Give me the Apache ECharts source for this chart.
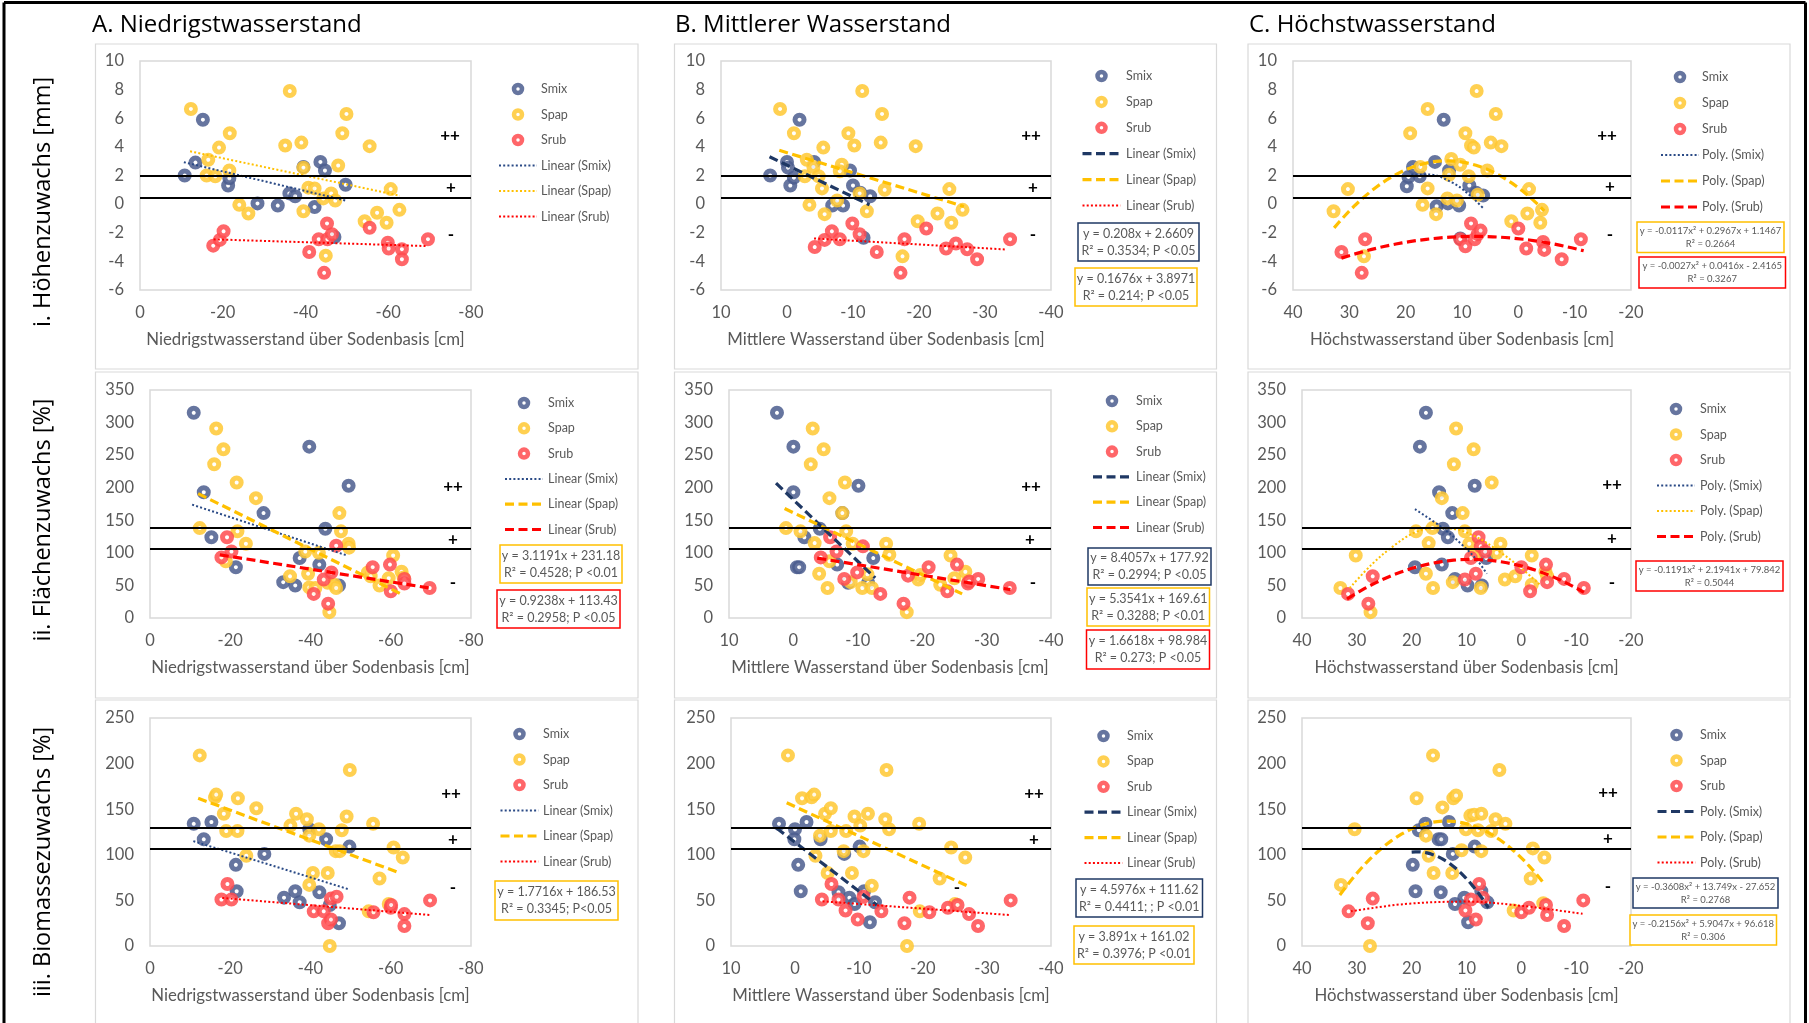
<!DOCTYPE html>
<html><head><meta charset="utf-8">
<script src="https://cdn.jsdelivr.net/npm/echarts@6.0.0/dist/echarts.min.js"></script>
<style>html,body{margin:0;padding:0;background:#fff}#c{width:1809px;height:1023px}</style>
</head><body><div id="c"></div><script>
// ---------------- TEXT ----------------
const colTitles = ['A. Niedrigstwasserstand', 'B. Mittlerer Wasserstand', 'C. Höchstwasserstand'];
const rowTitles = ['i. Höhenzuwachs [mm]', 'ii. Flächenzuwachs [%]', 'iii. Biomassezuwachs [%]'];
const xAxisTitles = ['Niedrigstwasserstand über Sodenbasis [cm]', 'Mittlere Wasserstand über Sodenbasis [cm]', 'Höchstwasserstand über Sodenbasis [cm]'];
const groups = ['Smix', 'Spap', 'Srub'];
const trendPrefix = ['Linear', 'Linear', 'Poly.'];
const classMarks = ['++', '+', '-'];

// ---------------- AXES (tick values) ----------------
const xTicksA = [-80, -60, -40, -20, 0];
const xTicksB = [-40, -30, -20, -10, 0, 10];
const xTicksC = [-20, -10, 0, 10, 20, 30, 40];
const yTicksI = [-6, -4, -2, 0, 2, 4, 6, 8, 10];
const yTicksII = [0, 50, 100, 150, 200, 250, 300, 350];
const yTicksIII = [0, 50, 100, 150, 200, 250];

// class thresholds (horizontal black lines) per row
const thrI = [2.0, 0.45];
const thrII = [139, 106];
const thrIII = [130, 107];

// ---------------- DATA: row i (Höhenzuwachs) ----------------
const iA_Smix = [[-10.8,2.0],[-13.4,2.9],[-15.2,5.9],[-21.3,1.3],[-21.6,1.8],[-28.4,0.05],[-33.3,-0.1],[-36.1,0.75],[-37.5,0.55],[-39.5,2.6],[-42.2,-0.2],[-43.6,2.95],[-44.7,2.35],[-47.0,-2.3],[-49.7,1.35]];
const iA_Spap = [[-12.3,6.65],[-16.5,3.1],[-16.1,2.0],[-18.2,1.95],[-19.1,3.95],[-21.7,4.95],[-21.6,2.35],[-24.0,-0.05],[-26.2,-0.65],[-35.1,4.1],[-36.2,7.9],[-39.0,4.3],[-39.5,2.55],[-39.5,-0.5],[-40.7,1.15],[-42.2,1.1],[-44.3,0.4],[-44.9,-3.6],[-46.2,0.75],[-47.2,0.25],[-47.9,2.7],[-48.9,4.95],[-49.9,6.3],[-54.3,-1.2],[-55.5,4.05],[-57.3,-0.6],[-59.6,-1.3],[-60.6,1.05],[-62.7,-0.4]];
const iA_Srub = [[-17.7,-2.9],[-19.3,-2.5],[-20.2,-1.9],[-40.9,-3.35],[-43.2,-2.45],[-44.5,-4.8],[-45.2,-1.35],[-45.3,-2.45],[-46.4,-2.1],[-55.5,-1.65],[-59.9,-2.7],[-60.1,-3.1],[-63.3,-3.15],[-63.3,-3.85],[-69.6,-2.45]];
const iB_Smix = [[2.55,2.0],[0,2.95],[-0.15,2.55],[-0.5,1.3],[-1.05,1.85],[-1.9,5.9],[-4.1,2.95],[-6.85,-0.1],[-8.5,-0.1],[-9.55,2.35],[-10.0,1.3],[-11.1,0.8],[-11.6,-2.35],[-12.6,0.55]];
const iB_Spap = [[1.05,6.65],[-1.05,4.95],[-3.0,3.1],[-2.7,1.95],[-3.4,-0.05],[-4.0,2.6],[-4.8,1.95],[-5.3,1.1],[-5.5,3.95],[-5.7,-0.7],[-7.6,0.25],[-8.3,2.75],[-8.0,2.3],[-9.3,4.95],[-10.2,4.1],[-11.0,0.75],[-11.4,7.9],[-12.1,-0.5],[-14.2,4.3],[-14.4,6.3],[-14.8,1.0],[-17.5,-3.65],[-19.5,4.05],[-19.8,-1.2],[-22.8,-0.65],[-24.6,1.05],[-24.9,-1.3],[-26.6,-0.4]];
const iB_Srub = [[-4.2,-3.0],[-5.7,-2.5],[-6.8,-1.9],[-8.0,-2.45],[-9.9,-1.35],[-11.0,-2.1],[-13.6,-3.35],[-17.2,-4.8],[-17.8,-2.45],[-21.1,-1.7],[-24.1,-3.1],[-25.6,-2.75],[-27.3,-3.15],[-28.8,-3.85],[-33.8,-2.45]];
const iC_Smix = [[19.8,1.25],[19.5,1.9],[18.7,2.6],[17.5,1.95],[14.8,2.95],[14.5,-0.15],[13.25,5.9],[12.5,0.05],[12.3,2.35],[10.5,-0.1],[10.3,-2.4],[8.7,1.3],[7.5,0.8],[6.25,0.6]];
const iC_Spap = [[32.8,-0.5],[30.25,1.05],[27.4,-3.65],[19.2,4.95],[17.4,2.6],[17.0,-0.05],[16.1,6.65],[16.1,1.1],[14.6,-0.7],[12.6,0.4],[11.9,3.15],[12.3,2.05],[10.9,0.25],[10.3,2.75],[9.4,4.95],[8.8,1.95],[8.4,4.1],[7.9,3.95],[7.4,7.9],[7.2,0.65],[5.5,2.35],[4.9,4.3],[4.0,6.3],[3.0,4.05],[1.25,-1.2],[-1.6,-0.65],[-1.9,1.05],[-3.9,-1.3],[-4.2,-0.4]];
const iC_Srub = [[31.4,-3.35],[27.2,-2.45],[27.8,-4.8],[10.3,-2.45],[9.4,-2.95],[8.4,-1.35],[7.75,-2.45],[7.2,-2.1],[6.7,-1.85],[0,-1.7],[-1.4,-3.1],[-4.4,-2.65],[-4.6,-3.2],[-7.7,-3.85],[-11.1,-2.45]];

// ---------------- DATA: row ii (Flächenzuwachs) ----------------
const iiA_Smix = [[-10.9,315],[-13.4,193],[-15.3,124],[-21.4,78],[-28.3,161],[-33.2,55],[-36.2,50],[-37.3,92],[-39.7,263],[-42.2,82],[-43.7,137],[-47.1,50],[-49.5,203]];
const iiA_Spap = [[-12.4,138],[-16.5,291],[-16.0,236],[-18.3,259],[-18.9,87],[-21.6,208],[-21.8,133],[-23.9,114],[-26.4,184],[-34.9,64],[-38.7,102],[-39.4,68],[-39.7,47],[-41.2,46],[-42.1,100],[-44.3,54],[-44.7,9],[-46.0,51],[-46.4,46],[-47.2,161],[-47.6,133],[-49.5,114],[-49.6,108],[-54.3,70],[-55.0,64],[-57.2,50],[-59.5,61],[-60.6,96],[-62.7,71],[-63.2,62]];
const iiA_Srub = [[-17.8,93],[-19.2,124],[-20.3,102],[-40.8,37],[-43.3,59],[-44.4,22],[-45.2,70],[-46.4,111],[-55.5,78],[-59.8,82],[-60.0,41],[-63.4,60],[-63.4,53],[-69.7,46]];
const iiB_Smix = [[2.55,315],[0,263],[0,193],[-0.55,78],[-0.9,78],[-1.7,124],[-4.1,137],[-6.8,82],[-7.6,161],[-8.5,54],[-10.1,203],[-11.6,54],[-12.4,92]];
const iiB_Spap = [[1.15,138],[-1.1,133],[-2.7,236],[-3.0,291],[-3.3,115],[-4.0,68],[-4.7,259],[-5.3,46],[-5.6,184],[-5.6,87],[-7.6,161],[-8.0,208],[-8.2,133],[-8.9,55],[-9.2,114],[-10.7,46],[-11.5,67],[-12.2,46],[-14.4,114],[-14.9,97],[-17.6,9],[-19.4,59],[-19.7,66],[-22.8,51],[-24.4,96],[-25.0,61],[-26.7,71],[-27.2,56]];
const iiB_Srub = [[-4.25,93],[-5.7,124],[-6.7,102],[-7.9,60],[-9.9,70],[-10.8,110],[-13.5,37],[-17.1,22],[-17.8,65],[-21.0,78],[-23.9,41],[-25.4,82],[-27.1,53],[-27.3,56],[-28.7,60],[-33.6,46]];
const iiC_Smix = [[17.4,315],[18.5,263],[19.4,78],[15.0,193],[12.6,161],[14.3,137],[13.4,124],[14.5,82],[12.1,60],[9.8,50],[8.5,203],[7.2,50],[6.4,92]];
const iiC_Spap = [[33.0,46],[30.2,96],[27.5,9],[19.2,133],[17.4,68],[16.9,115],[16.2,138],[16.1,46],[14.5,184],[12.3,236],[12.5,55],[11.9,291],[10.7,161],[10.3,133],[9.5,114],[8.7,259],[8.5,97],[7.4,46],[5.4,208],[4.5,100],[3.8,114],[3.0,59],[1.1,64],[-1.9,96],[-1.9,51],[-4.4,71],[-4.7,64]];
const iiC_Srub = [[31.6,37],[27.9,22],[27.1,64],[10.3,59],[9.2,92],[8.3,68],[7.8,124],[7.4,110],[6.6,102],[0,78],[-1.6,41],[-4.5,82],[-4.7,55],[-7.8,60],[-11.4,46]];

// ---------------- DATA: row iii (Biomassezuwachs) ----------------
const iiiA_Smix = [[-10.9,134],[-13.4,117],[-15.3,136],[-21.4,89],[-21.6,60],[-28.5,101],[-33.4,53],[-36.2,60],[-37.3,48],[-39.7,128],[-42.2,59],[-43.9,117],[-44.8,45],[-47.1,25],[-49.7,109]];
const iiiA_Spap = [[-12.4,209],[-16.2,163],[-16.5,166],[-18.4,145],[-19.0,126],[-21.8,126],[-21.9,162],[-24.0,99],[-26.5,151],[-35.0,132],[-36.4,145],[-39.1,139],[-39.7,121],[-40.6,80],[-39.7,67],[-42.1,128],[-44.3,80],[-44.8,0],[-46.3,104],[-47.3,104],[-47.8,127],[-49.0,142],[-49.8,193],[-54.5,38],[-55.6,134],[-57.2,74],[-59.5,46],[-60.7,108],[-63.0,97]];
const iiiA_Srub = [[-17.8,51],[-19.3,68],[-20.3,51],[-40.8,38],[-43.3,38],[-44.4,25],[-45.1,29],[-45.1,52],[-46.5,54],[-55.7,37],[-60.0,42],[-60.1,45],[-63.4,35],[-63.4,22],[-69.8,50]];
const iiiB_Smix = [[2.5,134],[0,128],[0.1,117],[-0.5,89],[-0.9,60],[-1.8,136],[-4.0,117],[-7.7,101],[-6.8,59],[-8.5,53],[-9.3,46],[-10.1,109],[-10.8,60],[-11.7,26],[-12.5,48]];
const iiiB_Spap = [[1.1,209],[-1.1,162],[-2.6,163],[-3.0,166],[-3.2,99],[-3.9,121],[-4.7,145],[-5.1,80],[-5.6,126],[-5.6,151],[-7.6,104],[-8.0,126],[-8.9,80],[-9.3,142],[-10.2,132],[-10.7,104],[-11.4,145],[-12.0,66],[-14.1,139],[-14.3,193],[-14.7,128],[-17.5,0],[-19.4,134],[-19.5,38],[-22.6,74],[-24.4,108],[-25.0,46],[-26.6,97]];
const iiiB_Srub = [[-4.2,51],[-5.7,68],[-6.8,51],[-7.9,39],[-9.8,29],[-10.7,54],[-13.5,38],[-17.1,25],[-17.9,53],[-21.0,37],[-23.9,42],[-25.4,45],[-27.2,35],[-28.6,22],[-33.7,50]];
const iiiC_Smix = [[19.8,89],[19.3,60],[18.7,127],[17.5,134],[15.1,117],[14.6,117],[14.7,59],[13.2,136],[12.5,101],[12.1,46],[10.4,53],[9.7,26],[8.5,109],[7.3,60],[6.2,48]];
const iiiC_Spap = [[32.9,67],[30.4,128],[27.6,0],[19.1,162],[17.4,121],[16.9,99],[16.1,209],[16.0,80],[14.4,152],[12.6,80],[12.4,162],[11.9,165],[10.9,105],[10.1,128],[9.3,143],[8.6,144],[7.9,127],[7.3,104],[7.3,145],[5.5,126],[4.7,139],[4.0,193],[2.9,134],[1.4,39],[-1.7,74],[-2.1,107],[-4.0,47],[-4.2,97]];
const iiiC_Srub = [[31.5,38],[28.0,25],[27.1,52],[10.2,39],[9.2,51],[8.3,29],[7.7,68],[7.0,53],[0,37],[-1.4,42],[-4.5,45],[-4.7,34],[-7.8,22],[-11.3,50]];

// ---------------- TRENDLINES ----------------
// linear trendlines: end points
const iA_trSmix = [[-10.6,2.93],[-50,0.23]];
const iA_trSpap = [[-12.1,3.69],[-62.8,0.59]];
const iA_trSrub = [[-17.8,-2.46],[-69.2,-2.93]];
const iiA_trSmix = [[-10.5,174],[-49.1,96]];
const iiA_trSpap = [[-12,191],[-62.5,37]];
const iiA_trSrub = [[-17.4,97],[-69.7,46]];
const iiiA_trSmix = [[-10.8,115],[-49.7,62]];
const iiiA_trSpap = [[-12,162],[-61.7,81]];
const iiiA_trSrub = [[-18,52.7],[-69.7,34]];
const iB_trSmix = [[2.65,3.31],[-12.5,-0.05]];
const iB_trSpap = [[1.17,3.76],[-26.8,-0.16]];
const iB_trSrub = [[-4.1,-2.4],[-33.3,-3.17]];
const iiB_trSmix = [[2.7,207],[-12.7,61.5]];
const iiB_trSpap = [[1.36,168],[-26.2,37]];
const iiB_trSrub = [[-3.7,92],[-33.7,43.6]];
const iiiB_trSmix = [[2.85,129],[-12.8,45]];
const iiiB_trSpap = [[1.3,157],[-26.9,66]];
const iiiB_trSrub = [[-4.3,49],[-33.5,34]];
// polynomial trendlines without printed equation: points
const iC_trSmix = [[19,2.07],[15.9,2.07],[11.6,1.48],[8.4,0.54],[6.25,-0.28]];
const iiC_trSmix = [[19.4,167],[14.3,138],[10.5,110],[7.9,87],[6.3,68]];
const iiC_trSpap = [[31.3,46],[27.3,82],[23.4,110],[19.5,131],[15.6,138],[11.8,136],[7.9,123],[4.0,102],[0.1,77],[-3.4,51]];
const iiiC_trSrub = [[31.1,38],[21.3,46],[9.9,48.7],[-0.1,44],[-11.5,35]];
// polynomial trendlines with printed equation: coefficients [a,b,c] and x range
const iC_polySpap = [-0.0117, 0.2967, 1.1467];   const iC_rangeSpap = [32.7, -4.6];
const iC_polySrub = [-0.0027, 0.0416, -2.4165];  const iC_rangeSrub = [31.4, -11.6];
const iiC_polySrub = [-0.1191, 2.1941, 79.842];  const iiC_rangeSrub = [31.8, -11.4];
const iiiC_polySmix = [-0.3608, 13.749, -27.652]; const iiiC_rangeSmix = [20, 6];
const iiiC_polySpap = [-0.2156, 5.9047, 96.618];  const iiiC_rangeSpap = [33.1, -4.3];

// ---------------- EQUATION LABELS ----------------
const iiA_eq = [['Spap','y = 3.1191x + 231.18','R² = 0.4528; P <0.01'],['Srub','y = 0.9238x + 113.43','R² = 0.2958; P <0.05']];
const iiiA_eq = [['Spap','y = 1.7716x + 186.53','R² = 0.3345; P<0.05']];
const iB_eq = [['Smix','y = 0.208x + 2.6609','R² = 0.3534; P <0.05'],['Spap','y = 0.1676x + 3.8971','R² = 0.214; P <0.05']];
const iiB_eq = [['Smix','y = 8.4057x + 177.92','R² = 0.2994; P <0.05'],['Spap','y = 5.3541x + 169.61','R² = 0.3288; P <0.01'],['Srub','y = 1.6618x + 98.984','R² = 0.273; P <0.05']];
const iiiB_eq = [['Smix','y = 4.5976x + 111.62','R² = 0.4411; ; P <0.01'],['Spap','y = 3.891x + 161.02','R² = 0.3976; P <0.01']];
const iC_eq = [['Spap','y = -0.0117x² + 0.2967x + 1.1467','R² = 0.2664'],['Srub','y = -0.0027x² + 0.0416x - 2.4165','R² = 0.3267']];
const iiC_eq = [['Srub','y = -0.1191x² + 2.1941x + 79.842','R² = 0.5044']];
const iiiC_eq = [['Smix','y = -0.3608x² + 13.749x - 27.652','R² = 0.2768'],['Spap','y = -0.2156x² + 5.9047x + 96.618','R² = 0.306']];

// ================= STYLE / LAYOUT =================
const FONT = 'Lato, "Open Sans", sans-serif';
const TFONT = '"Open Sans", Lato, sans-serif';
const TXT = '#595959';
const markerColor = {Smix:'#4b5d8e', Spap:'#ffc832', Srub:'#ff4b4f'};
const lineColor = {dot:{Smix:'#2a4a86', Spap:'#ffc000', Srub:'#ff0000'}, dash:{Smix:'#1f3864', Spap:'#ffc000', Srub:'#ff0000'}};
const boxColor = {Smix:'#1f3864', Spap:'#ffc000', Srub:'#ff0000'};

function polyLine(c, r) {
  const pts = [];
  for (let k = 0; k <= 40; k++) { const x = r[0] + (r[1]-r[0])*k/40; pts.push([x, c[0]*x*x + c[1]*x + c[2]]); }
  return pts;
}
function axisFromTicks(t) { return {min: t[0], max: t[t.length-1], interval: t[1]-t[0]}; }

const xTicks = [xTicksA, xTicksB, xTicksC];
const yTicks = [yTicksI, yTicksII, yTicksIII];
const thr = [thrI, thrII, thrIII];

// panel: row, col, grid [left,top,w,h], data, trends, styles, legend [cx,y0,step,tx], boxes, marks
const panels = [
 {row:0,col:0,grid:[140,61,331,229],data:[iA_Smix,iA_Spap,iA_Srub],tr:[{p:iA_trSmix},{p:iA_trSpap},{p:iA_trSrub}],st:['dot','dot','dot'],lg:[518,89,25.5,541],eq:[],eqBox:[],mk:[[450,136],[451,188],[451,235]]},
 {row:1,col:0,grid:[150,390,321,228],data:[iiA_Smix,iiA_Spap,iiA_Srub],tr:[{p:iiA_trSmix},{p:iiA_trSpap},{p:iiA_trSrub}],st:['dot','dash','dash'],lg:[524,403,25.3,548],eq:iiA_eq,eqBox:[[500,545,122,38],[497,590,123,38]],mk:[[453,487],[453,540],[453,583]]},
 {row:2,col:0,grid:[150,718,321,228],data:[iiiA_Smix,iiiA_Spap,iiiA_Srub],tr:[{p:iiiA_trSmix},{p:iiiA_trSpap},{p:iiiA_trSrub}],st:['dot','dash','dot'],lg:[519.5,734,25.5,543],eq:iiiA_eq,eqBox:[[495,881,123,39]],mk:[[451,794],[453,840],[453,888]]},
 {row:0,col:1,grid:[721,61,330,229],data:[iB_Smix,iB_Spap,iB_Srub],tr:[{p:iB_trSmix},{p:iB_trSpap},{p:iB_trSrub}],st:['dash','dash','dot'],lg:[1101.5,76,25.9,1126],eq:iB_eq,eqBox:[[1078,223,121,38],[1075,268,122,38]],mk:[[1031,136],[1033,188],[1033,235]]},
 {row:1,col:1,grid:[729,390,322,228],data:[iiB_Smix,iiB_Spap,iiB_Srub],tr:[{p:iiB_trSmix},{p:iiB_trSpap},{p:iiB_trSrub}],st:['dash','dash','dash'],lg:[1112,401,25.3,1136],eq:iiB_eq,eqBox:[[1088,548,123,37],[1087,588,122.5,38],[1086.5,630,123,39]],mk:[[1031,487],[1030,540],[1033,583]]},
 {row:2,col:1,grid:[731,718,320,228],data:[iiiB_Smix,iiiB_Spap,iiiB_Srub],tr:[{p:iiiB_trSmix},{p:iiiB_trSpap},{p:iiiB_trSrub}],st:['dash','dash','dot'],lg:[1103.5,736,25.4,1127],eq:iiiB_eq,eqBox:[[1076,879,126.5,38],[1074,926,120,38]],mk:[[1034,794],[1034,840],[957,888]]},
 {row:0,col:2,grid:[1293,61,338,229],data:[iC_Smix,iC_Spap,iC_Srub],tr:[{p:iC_trSmix,s:true},{c:iC_polySpap,r:iC_rangeSpap},{c:iC_polySrub,r:iC_rangeSrub}],st:['dot','dash','dash'],lg:[1680,77,26,1702],eq:iC_eq,eqBox:[[1637,222,147,30.5],[1639,257,146.5,31]],mk:[[1607,136],[1610,187],[1610,235]],small:true},
 {row:1,col:2,grid:[1302,390,329,228],data:[iiC_Smix,iiC_Spap,iiC_Srub],tr:[{p:iiC_trSmix,s:true},{p:iiC_trSpap,s:true},{c:iiC_polySrub,r:iiC_rangeSrub}],st:['dot','dot','dash'],lg:[1676,409,25.5,1700],eq:iiC_eq,eqBox:[[1636,561,147,30]],mk:[[1612,485],[1612,539],[1612,583]],small:true},
 {row:2,col:2,grid:[1302,718,329,228],data:[iiiC_Smix,iiiC_Spap,iiiC_Srub],tr:[{c:iiiC_polySmix,r:iiiC_rangeSmix},{c:iiiC_polySpap,r:iiiC_rangeSpap},{p:iiiC_trSrub,s:true}],st:['dash','dash','dot'],lg:[1676.5,735,25.5,1700],eq:iiiC_eq,eqBox:[[1633,878,145,30],[1630,915,146.5,30]],mk:[[1608,793],[1608,839],[1608,887]],small:true}
];

const lineCfg = {dot:{width:2, type:[2,2.2]}, dash:{width:3.2, type:[9,4.5]}};

const option = {animation:false, backgroundColor:'#ffffff', grid:[], xAxis:[], yAxis:[], series:[], graphic:[]};
const G = option.graphic;

// outer frame
G.push({type:'line', shape:{x1:4, y1:2.5, x2:1805.5, y2:2.5}, style:{stroke:'#000', lineWidth:3}, z:10});
G.push({type:'line', shape:{x1:4, y1:2.5, x2:4, y2:1023}, style:{stroke:'#000', lineWidth:3}, z:10});
G.push({type:'line', shape:{x1:1805.5, y1:2.5, x2:1805.5, y2:1023}, style:{stroke:'#000', lineWidth:3}, z:10});

// panel frames
const colX = [[95.5,542.5],[674.5,542],[1248,542]];
const rowY = [[44,325],[372,326],[700,330]];
for (let r = 0; r < 3; r++) for (let c = 0; c < 3; c++) {
  G.push({type:'rect', shape:{x:colX[c][0], y:rowY[r][0], width:colX[c][1], height:rowY[r][1]}, style:{fill:'none', stroke:'#d9d9d9', lineWidth:1.2}, z:-1, silent:true});
}
// column titles
const colTitleX = [92, 675, 1249];
colTitles.forEach((t, i) => G.push({type:'text', x:colTitleX[i], y:25, style:{text:t, fill:'#000', font:'24px ' + TFONT, align:'left', verticalAlign:'middle', textAlign:'left', textVerticalAlign:'middle'}}));
// row titles
const rowTitleY = [202, 520, 862];
rowTitles.forEach((t, i) => G.push({type:'text', x:43, y:rowTitleY[i], rotation:Math.PI/2, style:{text:t, fill:'#000', font:'23.5px ' + TFONT, align:'center', verticalAlign:'middle', textAlign:'center', textVerticalAlign:'middle'}}));

panels.forEach((p, idx) => {
  const g = p.grid;
  option.grid.push({left:g[0], top:g[1], width:g[2], height:g[3], show:true, borderColor:'#d9d9d9', borderWidth:1.5, backgroundColor:'rgba(0,0,0,0)'});
  const xa = axisFromTicks(xTicks[p.col]);
  const ya = axisFromTicks(yTicks[p.row]);
  option.xAxis.push({gridIndex:idx, type:'value', min:xa.min, max:xa.max, interval:xa.interval, inverse:true,
    axisLine:{show:false}, axisTick:{show:false}, splitLine:{show:false},
    axisLabel:{color:TXT, fontSize:16.5, fontFamily:FONT, margin:14},
    name:xAxisTitles[p.col], nameLocation:'middle', nameGap:41, nameTextStyle:{color:TXT, fontSize:16.8, fontFamily:FONT}});
  option.yAxis.push({gridIndex:idx, type:'value', min:ya.min, max:ya.max, interval:ya.interval,
    axisLine:{show:false}, axisTick:{show:false}, splitLine:{show:false},
    axisLabel:{color:TXT, fontSize:16.5, fontFamily:FONT, margin:16}});

  // threshold lines
  option.series.push({type:'line', name:'thr'+idx, xAxisIndex:idx, yAxisIndex:idx, data:[], silent:true, z:1,
    markLine:{silent:true, symbol:['none','none'], label:{show:false}, lineStyle:{color:'#000', width:2, type:'solid'},
      data: thr[p.row].map(v => ({yAxis:v}))}});

  // scatter
  groups.forEach((gname, k) => {
    option.series.push({type:'scatter', name:gname + ' ' + idx, xAxisIndex:idx, yAxisIndex:idx, data:p.data[k],
      symbol:'circle', symbolSize:9, z:2,
      itemStyle:{color:'#ffffff', borderColor:markerColor[gname], borderWidth:5, opacity:0.85}});
  });
  // trendlines
  groups.forEach((gname, k) => {
    const t = p.tr[k];
    const pts = t.c ? polyLine(t.c, t.r) : t.p;
    const sty = p.st[k];
    option.series.push({type:'line', name:trendPrefix[p.col] + ' (' + gname + ') ' + idx, xAxisIndex:idx, yAxisIndex:idx, data:pts,
      symbol:'none', showSymbol:false, smooth: t.s ? 0.35 : false, silent:true, z:4,
      lineStyle:{color:lineColor[sty][gname], width:lineCfg[sty].width, type:lineCfg[sty].type, cap:'butt'}});
  });

  // legend (graphic)
  const [cx, y0, step, tx] = p.lg;
  groups.forEach((gname, k) => {
    const cy = y0 + k*step;
    G.push({type:'circle', shape:{cx:cx, cy:cy, r:4}, style:{fill:'#fff', stroke:markerColor[gname], lineWidth:4.5, opacity:0.85}});
    G.push({type:'text', x:tx, y:cy, style:{text:gname, fill:TXT, font:'12.5px ' + FONT, align:'left', verticalAlign:'middle', textAlign:'left', textVerticalAlign:'middle'}});
  });
  groups.forEach((gname, k) => {
    const cy = y0 + (k+3)*step;
    const sty = p.st[k];
    G.push({type:'line', shape:{x1:cx-19, y1:cy, x2:cx+19, y2:cy}, style:{stroke:lineColor[sty][gname], lineWidth:lineCfg[sty].width, lineDash:lineCfg[sty].type}});
    G.push({type:'text', x:tx, y:cy, style:{text:trendPrefix[p.col] + ' (' + gname + ')', fill:TXT, font:'12.5px ' + FONT, align:'left', verticalAlign:'middle', textAlign:'left', textVerticalAlign:'middle'}});
  });

  // equation boxes
  p.eq.forEach((e, k) => {
    const b = p.eqBox[k];
    G.push({type:'rect', shape:{x:b[0], y:b[1], width:b[2], height:b[3]}, style:{fill:'#fff', stroke:boxColor[e[0]], lineWidth:1.5}});
    G.push({type:'text', x:b[0] + b[2]/2, y:b[1] + b[3]/2, style:{text:e[1] + '\n' + e[2], fill:TXT,
      font:(p.small ? '9.5px ' : '12.5px ') + FONT, lineHeight:p.small ? 13 : 17,
      align:'center', verticalAlign:'middle', textAlign:'center', textVerticalAlign:'middle'}});
  });

  // class marks
  classMarks.forEach((m, k) => {
    G.push({type:'text', x:p.mk[k][0], y:p.mk[k][1], style:{text:m, fill:'#000', font:'bold 17px ' + FONT, align:'center', verticalAlign:'middle', textAlign:'center', textVerticalAlign:'middle'}});
  });
});

const chart = echarts.init(document.getElementById('c'));
chart.setOption(option);
</script></body></html>
